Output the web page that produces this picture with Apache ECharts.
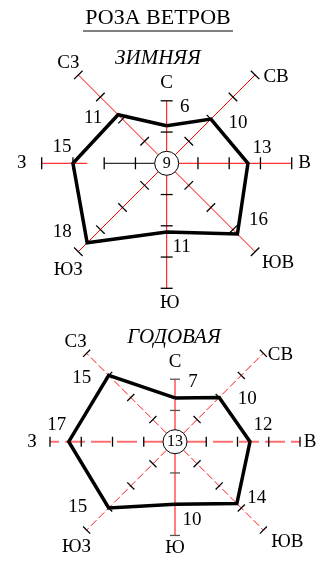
<!DOCTYPE html>
<html>
<head>
<meta charset="utf-8">
<title>Роза ветров</title>
<script src="https://cdn.jsdelivr.net/npm/echarts@6/dist/echarts.min.js"></script>
<style>
  html, body { margin: 0; padding: 0; background: #fff; }
  #chart { width: 321px; height: 562px; }
</style>
</head>
<body>
<div id="chart"></div>
<script>
// румбы и их азимуты
const directions = ['С', 'СВ', 'В', 'ЮВ', 'Ю', 'ЮЗ', 'З', 'СЗ'];
const bearings = [0, 45, 90, 135, 180, 225, 270, 315];

// повторяемость ветров, %
const winterValues = [6, 10, 13, 16, 11, 18, 15, 11];
const annualValues = [7, 10, 12, 14, 10, 15, 17, 15];

// штиль, %
const winterCalm = 9;
const annualCalm = 13;

// длина лучей по шкале и шаг делений
const winterAxisLength = [10, 20, 20, 20, 20, 20, 20, 20];
const annualAxisLength = [10, 20, 20, 20, 15, 20, 20, 20];
const tickStep = 5;
const scaleMax = 20;

const FONT = '"Liberation Serif", "Times New Roman", serif';
const CALM_R = 12;

const solidRed = { color: '#ff0000', width: 1, dash: null, tick: '#000' };
const dashRed = { color: '#ff1a1a', width: 1, dash: [8, 3], tick: '#000' };
const dashPink = { color: '#ff7070', width: 2, dash: [20, 6], tick: '#000' };
const solidRedGrey = { color: '#ff0000', width: 1, dash: null, tick: '#555' };

const roses = [
  {
    title: 'ЗИМНЯЯ',
    titlePos: [158, 58],
    values: winterValues,
    calm: winterCalm,
    axisLength: winterAxisLength,
    center: [166.7, 163.3],
    tickHalf: 6,
    spokes: [solidRed, solidRed, solidRed, solidRed, solidRed, solidRed,
      // у З внутренняя часть луча чёрная
      Object.assign({}, solidRed, { segs: [[0, 10, '#000'], [12.7, 20, '#ff0000']] }),
      solidRed],
    valueOffsets: [[18, -19], [27, 4], [14, -15], [21, -14], [15, 15], [-25, -11], [-11, -16], [-25, 3]],
    nameOffsets: [[0, -18], [21, 2], [13, 0], [23, 11], [3, 15], [-10, 18], [-20, 0], [-10, -12]]
  },
  {
    title: 'ГОДОВАЯ',
    titlePos: [174, 337],
    values: annualValues,
    calm: annualCalm,
    axisLength: annualAxisLength,
    center: [175, 441.7],
    tickHalf: 5,
    spokes: [solidRedGrey, dashRed, dashPink, dashRed, solidRedGrey, dashRed, dashPink, dashRed],
    valueOffsets: [[18, -16], [28, 2], [13, -17], [20, -6], [17, 16], [-31, -1], [-12, -17], [-27, 3]],
    nameOffsets: [[0, -17], [17, 2], [10, 0], [24, 12], [0, 13], [-10, 17], [-18, 0], [-11, -11]]
  }
];

function spokeRenderer(rose) {
  return function (params, api) {
    const st = rose.spokes[params.dataIndex];
    const len = api.value(0);
    const ang = api.value(1);
    const c = api.coord([0, ang]);
    const e = api.coord([len, ang]);
    const dx = e[0] - c[0], dy = e[1] - c[1];
    const L = Math.hypot(dx, dy);
    const ux = dx / L, uy = dy / L;
    const nx = -uy, ny = ux;
    const h = rose.tickHalf;
    const children = [];
    const segs = st.segs || [[0, len, st.color]];
    segs.forEach(function (s) {
      const a = api.coord([s[0], ang]);
      const b = api.coord([s[1], ang]);
      const off = s[0] === 0 ? CALM_R : 0;
      children.push({
        type: 'line',
        shape: { x1: a[0] + ux * off, y1: a[1] + uy * off, x2: b[0], y2: b[1] },
        style: { stroke: s[2], lineWidth: st.width, lineDash: st.dash }
      });
    });
    for (let r = tickStep; r <= len; r += tickStep) {
      const p = api.coord([r, ang]);
      children.push({
        type: 'line',
        shape: { x1: p[0] - nx * h, y1: p[1] - ny * h, x2: p[0] + nx * h, y2: p[1] + ny * h },
        style: { stroke: st.tick, lineWidth: 1.3 }
      });
    }
    return { type: 'group', children: children };
  };
}

function textRenderer(texts, offsets) {
  return function (params, api) {
    const p = api.coord([api.value(0), api.value(1)]);
    const o = offsets[params.dataIndex];
    return {
      type: 'text',
      x: p[0] + o[0],
      y: p[1] + o[1],
      style: {
        text: texts[params.dataIndex],
        font: '19px ' + FONT,
        fill: '#000',
        align: 'center',
        verticalAlign: 'middle'
      }
    };
  };
}

const chart = echarts.init(document.getElementById('chart'));

const polar = [], angleAxis = [], radiusAxis = [], series = [];
const graphic = [
  {
    type: 'text', x: 158, y: 18,
    style: { text: 'РОЗА ВЕТРОВ', font: '22px ' + FONT, fill: '#000', align: 'center', verticalAlign: 'middle' }
  },
  { type: 'line', shape: { x1: 83, y1: 31, x2: 233, y2: 31 }, style: { stroke: '#000', lineWidth: 1 } }
];

roses.forEach(function (rose, k) {
  polar.push({ center: rose.center, radius: 125 });
  angleAxis.push({ polarIndex: k, type: 'value', min: 0, max: 360, startAngle: 90, clockwise: true, show: false });
  radiusAxis.push({ polarIndex: k, type: 'value', min: 0, max: scaleMax, show: false });

  graphic.push({
    type: 'text', x: rose.titlePos[0], y: rose.titlePos[1],
    style: { text: rose.title, font: 'italic 21px ' + FONT, fill: '#000', align: 'center', verticalAlign: 'middle' }
  });

  // лучи с делениями
  series.push({
    type: 'custom',
    coordinateSystem: 'polar',
    polarIndex: k,
    z: 1,
    silent: true,
    data: rose.axisLength.map((l, i) => [l, bearings[i]]),
    renderItem: spokeRenderer(rose)
  });

  // контур розы
  const closed = rose.values.map((v, i) => [v, bearings[i]]);
  closed.push([rose.values[0], bearings[0]]);
  series.push({
    type: 'line',
    coordinateSystem: 'polar',
    polarIndex: k,
    z: 3,
    symbol: 'none',
    silent: true,
    data: closed,
    lineStyle: { color: '#000', width: 3.5, join: 'miter' }
  });

  // штиль в центре
  series.push({
    type: 'scatter',
    coordinateSystem: 'polar',
    polarIndex: k,
    z: 4,
    symbolSize: CALM_R * 2,
    data: [{ value: [0, 0], name: String(rose.calm) }],
    itemStyle: { color: '#fff', borderColor: '#000', borderWidth: 1, opacity: 1 },
    label: { show: true, position: 'inside', formatter: '{b}', color: '#000', fontSize: 16, fontFamily: FONT }
  });

  // подписи значений
  series.push({
    type: 'custom',
    coordinateSystem: 'polar',
    polarIndex: k,
    z: 5,
    silent: true,
    data: rose.values.map((v, i) => [v, bearings[i]]),
    renderItem: textRenderer(rose.values.map(String), rose.valueOffsets)
  });

  // названия румбов
  series.push({
    type: 'custom',
    coordinateSystem: 'polar',
    polarIndex: k,
    z: 5,
    silent: true,
    data: rose.axisLength.map((l, i) => [l, bearings[i]]),
    renderItem: textRenderer(directions, rose.nameOffsets)
  });
});

chart.setOption({
  animation: false,
  backgroundColor: '#fff',
  polar: polar,
  angleAxis: angleAxis,
  radiusAxis: radiusAxis,
  graphic: graphic,
  series: series
});
</script>
</body>
</html>
